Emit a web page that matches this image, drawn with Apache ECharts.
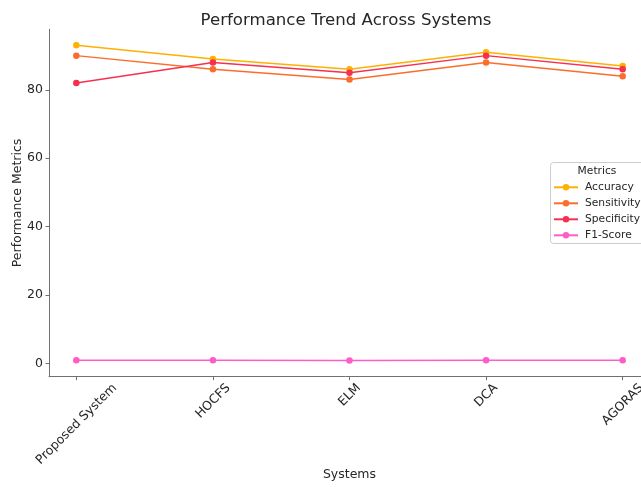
<!DOCTYPE html>
<html><head><meta charset="utf-8">
<script src="https://cdn.jsdelivr.net/npm/echarts@6/dist/echarts.min.js"></script>
<style>html,body{margin:0;padding:0;background:#fff}#c{width:641px;height:487px}</style>
</head><body><div id="c"></div>
<script>
const categories = ['Proposed System', 'HOCFS', 'ELM', 'DCA', 'AGORAS'];
const accuracy = [93, 89, 86, 91, 87];
const sensitivity = [90, 86, 83, 88, 84];
const specificity = [82, 88, 85, 90, 86];
const f1Score = [0.91, 0.89, 0.87, 0.90, 0.88];
const seriesNames = ['Accuracy', 'Sensitivity', 'Specificity', 'F1-Score'];
const yTicks = [0, 20, 40, 60, 80];
const xTicks = [0, 1, 2, 3, 4];

const FONT = "'DejaVu Sans', sans-serif";
const TXT = '#262626';
const AX = '#707070';
const tickFont = 12.5;

// rich styles so that rotated labels are centred on their tick (matplotlib style)
const ctx = document.createElement('canvas').getContext('2d');
ctx.font = tickFont + "px 'DejaVu Sans'";
const hm = 14.5, he = tickFont;
const rich = {};
categories.forEach((c, i) => {
  const L = ctx.measureText(c).width;
  const cy = (L + hm) / 4;
  rich['c' + i] = {
    fontSize: tickFont, fontFamily: FONT, color: TXT,
    padding: [Math.max(0, cy - he / 2), 2 * cy, 0, 0]
  };
});

const colors = ['#ffb000', '#fb6d2c', '#f6304f', '#ff5cc8'];
const values = [accuracy, sensitivity, specificity, f1Score];

const chart = echarts.init(document.getElementById('c'), null, {renderer: 'canvas'});
chart.setOption({
  animation: false,
  backgroundColor: '#ffffff',
  title: {
    text: 'Performance Trend Across Systems',
    left: 341, top: 7, textAlign: 'center',
    textStyle: {fontSize: 16.6, fontWeight: 'normal', color: TXT, fontFamily: FONT}
  },
  grid: {left: 49, top: 29.3, width: 601, height: 347.4, containLabel: false, outerBoundsMode: 'none'},
  xAxis: {
    type: 'value', min: -0.2, max: 4.2,
    axisLine: {show: true, onZero: false, lineStyle: {color: AX, width: 1}},
    axisTick: {show: true, customValues: xTicks, length: 3.5, lineStyle: {color: AX, width: 1}},
    axisLabel: {
      customValues: xTicks, rotate: 45, align: 'center', verticalAlign: 'top', margin: 4,
      formatter: v => '{c' + Math.round(v) + '|' + categories[Math.round(v)] + '}',
      rich: rich
    },
    splitLine: {show: false},
    name: 'Systems', nameLocation: 'middle', nameGap: 92, nameMoveOverlap: false,
    nameTextStyle: {fontSize: 12.5, color: TXT, fontFamily: FONT}
  },
  yAxis: {
    type: 'value', min: -3.9, max: 97.7,
    axisLine: {show: true, onZero: false, lineStyle: {color: AX, width: 1}},
    axisTick: {show: true, customValues: yTicks, length: 3.5, lineStyle: {color: AX, width: 1}},
    axisLabel: {customValues: yTicks, margin: 6, fontSize: tickFont, color: TXT, fontFamily: FONT},
    splitLine: {show: false},
    name: 'Performance Metrics', nameLocation: 'middle', nameGap: 24.5, nameMoveOverlap: false,
    nameTextStyle: {fontSize: 12.5, color: TXT, fontFamily: FONT}
  },
  legend: {
    data: seriesNames, orient: 'vertical', left: 553, top: 179.3,
    itemWidth: 24, itemHeight: 8, itemGap: 0, padding: 0, selectedMode: false,
    textStyle: {fontSize: 10.7, lineHeight: 16, color: TXT, fontFamily: FONT, padding: [0, 0, 0, 2]},
    z: 6
  },
  graphic: [
    {type: 'rect', z: 5, shape: {x: 550.5, y: 162.5, width: 110, height: 81, r: 3},
     style: {fill: 'rgba(255,255,255,0.85)', stroke: '#cccccc', lineWidth: 1}},
    {type: 'text', z: 7, x: 597, y: 171,
     style: {text: 'Metrics', fontSize: 10.7, fontFamily: FONT, fill: TXT, align: 'center', verticalAlign: 'middle'}}
  ],
  series: seriesNames.map((n, k) => ({
    name: n, type: 'line',
    data: values[k].map((v, i) => [i, v]),
    symbol: 'circle', symbolSize: 6.5,
    lineStyle: {width: 1.5, color: colors[k]},
    itemStyle: {color: colors[k]},
    emphasis: {disabled: true},
    clip: false
  }))
});
</script>
</body></html>
